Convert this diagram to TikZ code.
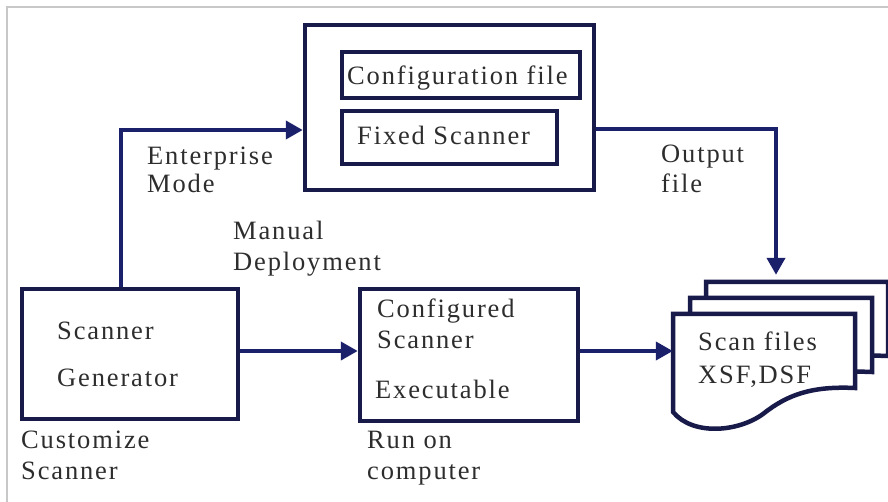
\documentclass[tikz,border=0pt]{standalone}
\usepackage{fontspec}
\setmainfont{Liberation Serif}[LetterSpace=7]
\usetikzlibrary{arrows.meta, positioning}
\definecolor{boxnavy}{RGB}{24,26,74}
\definecolor{arrownavy}{RGB}{26,32,105}
\definecolor{labelgray}{RGB}{45,45,45}
\definecolor{framegray}{RGB}{200,200,200}

\begin{document}
\begin{tikzpicture}[x=1pt, y=-1pt,
    box/.style={draw=boxnavy, line width=4.5pt, inner sep=0pt},
    docline/.style={draw=boxnavy, line width=4.5pt, fill=white},
    flow/.style={draw=arrownavy, line width=4pt, -{Triangle[length=17pt, width=18pt]}},
    lbl/.style={text=labelgray, inner sep=0pt, anchor=base west, font=\fontsize{26.5}{30}\selectfont}]
    \useasboundingbox (0,0) rectangle (888,502);

    % Frame of the screenshot
    \draw[framegray, line width=2pt] (888,7) -- (7,7) -- (7,502);

    % Enterprise block
    \node[box, minimum width=289pt, minimum height=165pt] (fixedblk) at (449.5,107.5) {};
    \node[box, minimum width=238pt, minimum height=46pt] (cfgfile) at (461,75) {};
    \node[box, minimum width=215pt, minimum height=53pt] (fixedscn) at (449.5,137.5) {};
    \node[lbl] (cfgtxt) at (347,85) {Configuration file};
    \node[lbl] (fixtxt) at (357,145) {Fixed Scanner};

    % Generator and executable
    \node[box, minimum width=216pt, minimum height=130pt] (gen) at (130,354) {};
    \node[box, minimum width=218pt, minimum height=132pt] (exe) at (469,355) {};

    % Stack of scan files (back to front)
    \foreach \dx/\dy/\nm in {33/-32/scanc, 17/-16/scanb, 0/0/scana}{
        \draw[docline, shift={(673+\dx,314+\dy)}] (0,0) -- (182,0) -- (182,74)
            .. controls (140,72) and (115,80) .. (90,100)
            .. controls (65,118) and (20,122) .. (0,98) -- cycle;
        \node[inner sep=0pt, minimum width=182pt, minimum height=98pt] (\nm) at (764+\dx,363+\dy) {};
    }

    % Connectors
    \coordinate (entcorner) at (121,130);
    \coordinate (outcorner) at (776,129);
    \coordinate (lowrow) at (0,351);
    \draw[flow] (gen.north -| entcorner) -- (entcorner) -- (fixedblk.west |- entcorner);
    \draw[flow, shorten >=7pt] (fixedblk.east |- outcorner) -- (outcorner) -- (outcorner |- scanc.north);
    \draw[flow] (gen.east |- lowrow) -- (exe.west |- lowrow);
    \draw[flow] (exe.east |- lowrow) -- (scana.west |- lowrow);

    % Labels
    \node[lbl] (entlbl) at (147,165) {Enterprise};
    \node[lbl] (modelbl) at (147,193) {Mode};
    \node[lbl] (manlbl) at (233,240) {Manual};
    \node[lbl] (deplbl) at (233,271) {Deployment};
    \node[lbl] (outlbl) at (661,163) {Output};
    \node[lbl] (filelbl) at (661,193) {file};
    \node[lbl] (gentxta) at (57,339) {Scanner};
    \node[lbl] (gentxtb) at (57,386) {Generator};
    \node[lbl] (custlbl) at (21,448) {Customize};
    \node[lbl] (custlblb) at (21,479) {Scanner};
    \node[lbl] (exetxta) at (377,318) {Configured};
    \node[lbl] (exetxtb) at (377,348) {Scanner};
    \node[lbl] (exetxtc) at (375,398) {Executable};
    \node[lbl] (runlbl) at (367,448) {Run on};
    \node[lbl] (runlblb) at (367,479) {computer};
    \node[lbl] (scantxta) at (698,350) {Scan files};
    \node[lbl] (scantxtb) at (698,383) {XSF,DSF};
\end{tikzpicture}
\end{document}
